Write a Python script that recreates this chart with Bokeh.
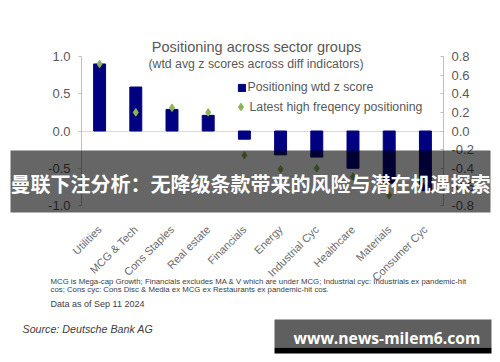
import math
from bokeh.plotting import figure
from bokeh.models import (Range1d, LinearAxis, FixedTicker, NumeralTickFormatter, Label,
                          BoxAnnotation, Legend, LegendItem, Span)
from bokeh.embed import file_html
from bokeh.resources import INLINE

categories = ["Utilities", "MCG & Tech", "Cons Staples", "Real estate", "Financials",
              "Energy", "Industrial Cyc", "Healthcare", "Materials", "Consumer Cyc"]
positioning = [0.90, 0.59, 0.29, 0.21, -0.11, -0.32, -0.35, -0.50, -0.70, -0.80]
high_freq = [0.72, 0.20, 0.25, 0.20, -0.26, -0.41, -0.40, -0.49, -0.69, -0.54]
left_ticks = [-1.0, -0.5, 0.0, 0.5, 1.0]
right_ticks = [-0.8, -0.6, -0.4, -0.2, 0.0, 0.2, 0.4, 0.6, 0.8]

title_text = "Positioning across sector groups"
subtitle_text = "(wtd avg z scores across diff indicators)"
legend_labels = ["Positioning wtd z score", "Latest high freqency positioning"]
note_lines = ["MCG is Mega-cap Growth; Financials excludes MA & V which are under MCG;  Industrial cyc: Industrials ex pandemic-hit",
              "cos; Cons cyc: Cons Disc & Media ex MCG ex Restaurants ex pandemic-hit cos."]
date_text = "Data as of Sep 11 2024"
source_text = "Source: Deutsche Bank AG"
banner_text = "曼联下注分析：无降级条款带来的风险与潜在机遇探索"
watermark_text = "www.news-milem6.com"

FONT = "Liberation Sans"
GREY = "#595959"

# ---- layout (pixels on a 500x362 canvas) ----
W, H = 500, 362
PX_L, PX_R = 81, 443      # plot area left / right
PX_T, PX_B = 56, 205      # plot area top / bottom
n = len(categories)
cw = (PX_R - PX_L) / n
x_start = -0.5 - PX_L / cw
x_end = n - 0.5 + (W - PX_R) / cw
lo, hi = left_ticks[0], left_ticks[-1]
unit = (PX_B - PX_T) / (hi - lo)
y_end = hi + PX_T / unit
y_start = lo - (H - PX_B) / unit
ratio = right_ticks[-1] / hi

p = figure(width=W, height=H,
           x_range=Range1d(x_start, x_end), y_range=Range1d(y_start, y_end),
           x_axis_location=None, y_axis_location=None,
           output_backend="svg", toolbar_location=None, min_border=0)
p.min_border_left = p.min_border_right = p.min_border_top = p.min_border_bottom = 0
p.outline_line_color = None
p.background_fill_color = "white"
p.border_fill_color = "white"
p.extra_y_ranges = {"hf": Range1d(y_start * ratio, y_end * ratio)}

# left axis
la = LinearAxis(ticker=FixedTicker(ticks=left_ticks), formatter=NumeralTickFormatter(format="0.0"),
                fixed_location=-0.5, bounds=(lo, hi))
la.axis_line_color = "#bfbfbf"
la.major_tick_line_color = "#bfbfbf"
la.major_tick_out = 3
la.major_tick_in = 0
la.minor_tick_line_color = None
la.major_label_standoff = 8
la.major_label_text_font = FONT
la.major_label_text_font_size = "13px"
la.major_label_text_color = GREY
p.add_layout(la, "left")

# right axis
ra = LinearAxis(y_range_name="hf", ticker=FixedTicker(ticks=right_ticks),
                formatter=NumeralTickFormatter(format="0.0"),
                fixed_location=n - 0.5, bounds=(right_ticks[0], right_ticks[-1]))
ra.axis_line_color = "#bfbfbf"
ra.major_tick_line_color = "#bfbfbf"
ra.major_tick_out = 0
ra.major_tick_in = 3
ra.minor_tick_line_color = None
ra.major_label_standoff = 8
ra.major_label_text_font = FONT
ra.major_label_text_font_size = "13px"
ra.major_label_text_color = GREY
p.add_layout(ra, "right")

# bottom (category) axis
ba = LinearAxis(ticker=FixedTicker(ticks=list(range(n))),
                major_label_overrides={i: c for i, c in enumerate(categories)},
                fixed_location=lo, bounds=(-0.5, n - 0.5))
ba.axis_line_color = None
ba.major_tick_line_color = None
ba.minor_tick_line_color = None
ba.major_label_orientation = math.pi / 4
ba.major_label_standoff = 16
ba.major_label_text_font = FONT
ba.major_label_text_font_size = "11px"
ba.major_label_text_color = "#6a6a6a"
p.add_layout(ba, "below")

# zero line
grid = p.ygrid[0] if len(p.ygrid) else None
p.xgrid.visible = False
if grid is not None and "cross_bounds" in grid.properties():
    grid.ticker = FixedTicker(ticks=[0])
    grid.grid_line_color = "#d9d9d9"
    grid.cross_bounds = (-0.5, n - 0.5)
else:
    p.ygrid.visible = False
    p.add_layout(Span(location=0, dimension="width", line_color="#d9d9d9", line_width=1, level="underlay"))

xs = list(range(n))
bars = p.vbar(x=xs, top=positioning, width=0.33, fill_color="#000080", line_color="#000080")
pts = p.scatter(x=xs, y=high_freq, y_range_name="hf", marker="diamond",
                size=7.6, line_width=1, fill_color="#8fb457", line_color="#8fb457")

common = dict(orientation="vertical", spacing=0, padding=0, margin=0,
              border_line_color=None, background_fill_alpha=0,
              label_text_font=FONT, label_text_font_size="12.3px", label_text_color=GREY)
legend_a = Legend(items=[LegendItem(label=legend_labels[0], renderers=[bars])],
                  location=(236.5, H - 96.8), glyph_width=9, glyph_height=9,
                  label_height=19, label_standoff=2, **common)
legend_b = Legend(items=[LegendItem(label=legend_labels[1], renderers=[pts])],
                  location=(230.5, H - 116.2), glyph_width=19, glyph_height=19,
                  label_height=19, label_standoff=-2, **common)
p.add_layout(legend_a)
p.add_layout(legend_b)


def lab(x, y, text, size, color=GREY, align="left", font=FONT, style="normal", level="annotation"):
    l = Label(x=x, y=H - y, x_units="screen", y_units="screen", text=text,
              text_align=align, text_baseline="middle", text_font=font,
              text_font_size=size, text_color=color, text_font_style=style, level=level)
    p.add_layout(l)
    return l


def box(l, r, t, b, color, alpha):
    p.add_layout(BoxAnnotation(left=l, right=r, top=H - t, bottom=H - b,
                               left_units="screen", right_units="screen",
                               top_units="screen", bottom_units="screen",
                               fill_color=color, fill_alpha=alpha, line_color=None,
                               level="overlay"))


lab(256, 46, title_text, "14.5px", align="center")
lab(255.5, 63.3, subtitle_text, "12.3px", align="center")
lab(50, 281, note_lines[0], "7.8px", color="#404040")
lab(50, 289, note_lines[1], "7.8px", color="#404040")
lab(50, 303, date_text, "9px", color="#404040")
lab(22, 328, source_text, "10.7px", color="#404040", style="italic")

# overlay banner
box(10, 490, 150, 212, "black", 0.6)
lab(250, 183, banner_text, "20px", color="white", align="center",
    font="Noto Sans CJK SC", style="bold", level="overlay")

# watermark
box(274, 491, 319, 347, "#5f5f5f", 1.0)
box(274, 491, 347, 353, "black", 1.0)
lab(386.5, 337, watermark_text, "15.7px", color="white", align="center",
    font="Open Sans", style="bold", level="overlay")

open("out.html", "w").write(file_html(p, INLINE))
